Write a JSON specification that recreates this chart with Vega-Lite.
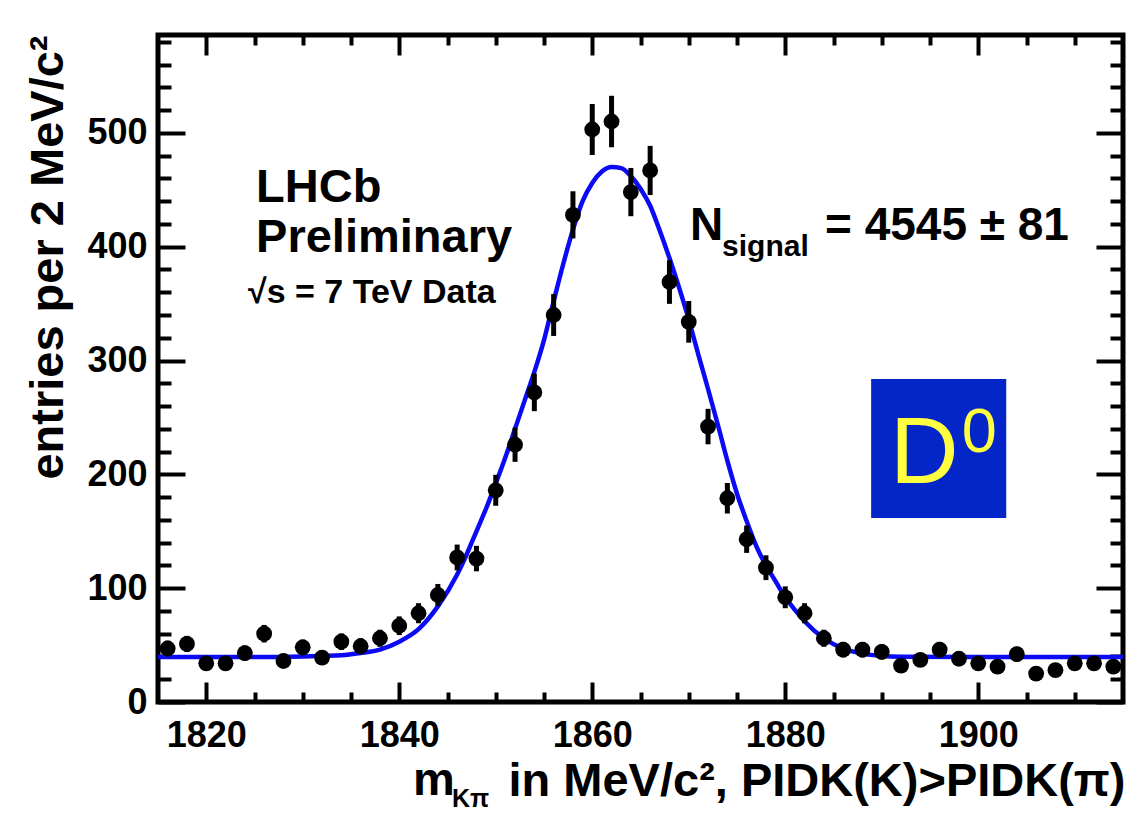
{
  "$schema": "https://vega.github.io/schema/vega-lite/v6.json",
  "width": 965,
  "height": 667,
  "autosize": "none",
  "padding": {"left": 158, "top": 35, "right": 14, "bottom": 112},
  "background": "white",
  "config": {
    "view": {"stroke": "black", "strokeWidth": 5},
    "font": "Liberation Sans",
    "axis": {"grid": false, "domain": false, "tickColor": "black", "tickWidth": 4, "labelColor": "black", "titleColor": "black", "labelFont": "Liberation Sans", "titleFont": "Liberation Sans", "labelFontWeight": "bold", "titleFontWeight": "bold", "format": "d", "zindex": 2}
  },
  "datasets": {
    "pts": [
      {"m": 1816, "v": 47, "err": 6.9}, {"m": 1818, "v": 51, "err": 7.1}, {"m": 1820, "v": 34, "err": 5.8}, {"m": 1822, "v": 34, "err": 5.8},
      {"m": 1824, "v": 43, "err": 6.6}, {"m": 1826, "v": 60, "err": 7.7}, {"m": 1828, "v": 36, "err": 6.0}, {"m": 1830, "v": 48, "err": 6.9},
      {"m": 1832, "v": 39, "err": 6.2}, {"m": 1834, "v": 53, "err": 7.3}, {"m": 1836, "v": 49, "err": 7.0}, {"m": 1838, "v": 56, "err": 7.5},
      {"m": 1840, "v": 67, "err": 8.2}, {"m": 1842, "v": 78, "err": 8.8}, {"m": 1844, "v": 94, "err": 9.7}, {"m": 1846, "v": 127, "err": 11.3},
      {"m": 1848, "v": 126, "err": 11.2}, {"m": 1850, "v": 186, "err": 13.6}, {"m": 1852, "v": 226, "err": 15.0}, {"m": 1854, "v": 272, "err": 16.5},
      {"m": 1856, "v": 340, "err": 18.4}, {"m": 1858, "v": 428, "err": 20.7}, {"m": 1860, "v": 503, "err": 22.4}, {"m": 1862, "v": 510, "err": 22.6},
      {"m": 1864, "v": 448, "err": 21.2}, {"m": 1866, "v": 467, "err": 21.6}, {"m": 1868, "v": 369, "err": 19.2}, {"m": 1870, "v": 334, "err": 18.3},
      {"m": 1872, "v": 242, "err": 15.6}, {"m": 1874, "v": 179, "err": 13.4}, {"m": 1876, "v": 143, "err": 12.0}, {"m": 1878, "v": 118, "err": 10.9},
      {"m": 1880, "v": 92, "err": 9.6}, {"m": 1882, "v": 78, "err": 8.8}, {"m": 1884, "v": 56, "err": 7.5}, {"m": 1886, "v": 46, "err": 6.8},
      {"m": 1888, "v": 46, "err": 6.8}, {"m": 1890, "v": 44, "err": 6.6}, {"m": 1892, "v": 32, "err": 5.7}, {"m": 1894, "v": 37, "err": 6.1},
      {"m": 1896, "v": 46, "err": 6.8}, {"m": 1898, "v": 38, "err": 6.2}, {"m": 1900, "v": 34, "err": 5.8}, {"m": 1902, "v": 31, "err": 5.6},
      {"m": 1904, "v": 42, "err": 6.5}, {"m": 1906, "v": 25, "err": 5.0}, {"m": 1908, "v": 28, "err": 5.3}, {"m": 1910, "v": 34, "err": 5.8},
      {"m": 1912, "v": 34, "err": 5.8}, {"m": 1914, "v": 31, "err": 5.6}
    ],
    "fit": [
      {"m": 1815, "f": 39.5}, {"m": 1820, "f": 39.5}, {"m": 1825, "f": 39.5}, {"m": 1830, "f": 40}, {"m": 1834, "f": 41},
      {"m": 1836, "f": 43}, {"m": 1838, "f": 46}, {"m": 1840, "f": 53}, {"m": 1842, "f": 64}, {"m": 1844, "f": 84},
      {"m": 1846, "f": 112}, {"m": 1847, "f": 130}, {"m": 1848, "f": 150}, {"m": 1849, "f": 170}, {"m": 1850, "f": 192},
      {"m": 1851, "f": 215}, {"m": 1852, "f": 240}, {"m": 1853, "f": 265}, {"m": 1854, "f": 290}, {"m": 1855, "f": 318},
      {"m": 1856, "f": 352}, {"m": 1857, "f": 385}, {"m": 1858, "f": 415}, {"m": 1859, "f": 440}, {"m": 1860, "f": 456},
      {"m": 1861, "f": 466}, {"m": 1862, "f": 470}, {"m": 1863, "f": 469}, {"m": 1864, "f": 462}, {"m": 1865, "f": 451},
      {"m": 1866, "f": 436}, {"m": 1867, "f": 414}, {"m": 1868, "f": 390}, {"m": 1869, "f": 364}, {"m": 1870, "f": 336},
      {"m": 1871, "f": 305}, {"m": 1872, "f": 275}, {"m": 1873, "f": 244}, {"m": 1874, "f": 212}, {"m": 1875, "f": 183},
      {"m": 1876, "f": 159}, {"m": 1877, "f": 137}, {"m": 1878, "f": 120}, {"m": 1879, "f": 106}, {"m": 1880, "f": 92},
      {"m": 1881, "f": 81}, {"m": 1882, "f": 71}, {"m": 1884, "f": 56}, {"m": 1886, "f": 47}, {"m": 1888, "f": 42.5},
      {"m": 1890, "f": 40.5}, {"m": 1892, "f": 39.8}, {"m": 1900, "f": 39.5}, {"m": 1915, "f": 39.5}
    ]
  },
  "resolve": {"scale": {"x": "shared", "y": "shared"}, "axis": {"x": "independent", "y": "independent"}},
  "layer": [
    {
      "data": {"name": "fit"},
      "mark": {"type": "line", "color": "#0a0af5", "strokeWidth": 4.5, "interpolate": "monotone", "clip": true},
      "encoding": {
        "x": {"field": "m", "type": "quantitative", "scale": {"domain": [1815, 1915], "nice": false, "zero": false},
          "axis": {"orient": "bottom", "values": [1825, 1830, 1835, 1845, 1850, 1855, 1865, 1870, 1875, 1885, 1890, 1895, 1905, 1910], "offset": -10, "tickSize": 10, "labels": false, "title": null}},
        "y": {"field": "f", "type": "quantitative", "scale": {"domain": [0, 586], "nice": false, "zero": false},
          "axis": {"orient": "left", "values": [20, 40, 60, 80, 120, 140, 160, 180, 220, 240, 260, 280, 320, 340, 360, 380, 420, 440, 460, 480, 520, 540, 560, 580], "offset": -13, "tickSize": 13, "labels": false, "title": null}}
      }
    },
    {
      "data": {"name": "pts"},
      "mark": {"type": "errorbar", "thickness": 5, "color": "black", "clip": true},
      "encoding": {
        "x": {"field": "m", "type": "quantitative", "scale": {"domain": [1815, 1915], "nice": false, "zero": false}, "axis": null},
        "y": {"field": "v", "type": "quantitative", "scale": {"domain": [0, 586], "nice": false, "zero": false}, "axis": null},
        "yError": {"field": "err"}
      }
    },
    {
      "data": {"name": "pts"},
      "mark": {"type": "circle", "color": "black", "opacity": 1, "size": 250, "clip": true},
      "encoding": {
        "x": {"field": "m", "type": "quantitative", "scale": {"domain": [1815, 1915], "nice": false, "zero": false},
          "axis": {"orient": "bottom", "values": [1820, 1840, 1860, 1880, 1900], "format": "d", "offset": -20, "tickSize": 20, "labelPadding": 16, "labelFontSize": 36, "labelFlush": false,
            "title": "in MeV/c², PIDK(K)>PIDK(π)", "titleFontSize": 47, "titleAnchor": "end", "titleAlign": "right", "titleBaseline": "alphabetic", "titleX": 967, "titleY": 113}},
        "y": {"field": "v", "type": "quantitative", "scale": {"domain": [0, 586], "nice": false, "zero": false},
          "axis": {"orient": "left", "values": [0, 100, 200, 300, 400, 500], "format": "d", "offset": -27, "tickSize": 27, "labelPadding": 11, "labelFontSize": 36, "labelFlush": false,
            "title": "entries per 2 MeV/c²", "titleFontSize": 47, "titleAngle": -90, "titleAnchor": "end", "titleAlign": "right", "titleBaseline": "alphabetic", "titleX": -123, "titleY": 0}}
      }
    },
    {
      "data": {"values": [{"x1": 1888.9, "x2": 1902.9, "y1": 161.7, "y2": 283.8}]},
      "mark": {"type": "rect", "color": "#0426c8"},
      "encoding": {
        "x": {"field": "x1", "type": "quantitative", "scale": {"domain": [1815, 1915], "nice": false, "zero": false},
          "axis": {"orient": "top", "values": [1820, 1840, 1860, 1880, 1900], "offset": -20, "tickSize": 20, "labels": false, "title": null}},
        "x2": {"field": "x2"},
        "y": {"field": "y1", "type": "quantitative", "scale": {"domain": [0, 586], "nice": false, "zero": false},
          "axis": {"orient": "right", "values": [0, 100, 200, 300, 400, 500], "offset": -27, "tickSize": 27, "labels": false, "title": null}},
        "y2": {"field": "y2"}
      }
    },
    {
      "data": {"values": [{}]},
      "mark": {"type": "text", "text": "D", "font": "Liberation Sans", "fontSize": 95, "color": "#ffff40", "align": "left", "baseline": "alphabetic"},
      "encoding": {
        "x": {"datum": 1890.85, "type": "quantitative", "scale": {"domain": [1815, 1915], "nice": false, "zero": false},
          "axis": {"orient": "top", "values": [1825, 1830, 1835, 1845, 1850, 1855, 1865, 1870, 1875, 1885, 1890, 1895, 1905, 1910], "offset": -10, "tickSize": 10, "labels": false, "title": null}},
        "y": {"datum": 192.4, "type": "quantitative", "scale": {"domain": [0, 586], "nice": false, "zero": false},
          "axis": {"orient": "right", "values": [20, 40, 60, 80, 120, 140, 160, 180, 220, 240, 260, 280, 320, 340, 360, 380, 420, 440, 460, 480, 520, 540, 560, 580], "offset": -13, "tickSize": 13, "labels": false, "title": null}}
      }
    },
    {
      "data": {"values": [{}]},
      "mark": {"type": "text", "text": "0", "font": "Liberation Sans", "fontSize": 63, "color": "#ffff40", "align": "left", "baseline": "alphabetic"},
      "encoding": {
        "x": {"datum": 1898.3, "type": "quantitative", "axis": null},
        "y": {"datum": 219.6, "type": "quantitative", "axis": null}
      }
    },
    {
      "data": {"values": [{}]},
      "mark": {"type": "text", "text": "LHCb", "fontWeight": "bold", "fontSize": 47, "color": "black", "align": "left", "baseline": "alphabetic"},
      "encoding": {"x": {"datum": 1825.16, "type": "quantitative", "axis": null}, "y": {"datum": 439.3, "type": "quantitative", "axis": null}}
    },
    {
      "data": {"values": [{}]},
      "mark": {"type": "text", "text": "Preliminary", "fontWeight": "bold", "fontSize": 47, "color": "black", "align": "left", "baseline": "alphabetic"},
      "encoding": {"x": {"datum": 1825.16, "type": "quantitative", "axis": null}, "y": {"datum": 395.4, "type": "quantitative", "axis": null}}
    },
    {
      "data": {"values": [{}]},
      "mark": {"type": "text", "text": "√s = 7 TeV Data", "fontWeight": "bold", "fontSize": 34, "color": "black", "align": "left", "baseline": "alphabetic"},
      "encoding": {"x": {"datum": 1824.33, "type": "quantitative", "axis": null}, "y": {"datum": 350.5, "type": "quantitative", "axis": null}}
    },
    {
      "data": {"values": [{}]},
      "mark": {"type": "text", "text": "N", "fontWeight": "bold", "fontSize": 46, "color": "black", "align": "left", "baseline": "alphabetic"},
      "encoding": {"x": {"datum": 1870.13, "type": "quantitative", "axis": null}, "y": {"datum": 405.9, "type": "quantitative", "axis": null}}
    },
    {
      "data": {"values": [{}]},
      "mark": {"type": "text", "text": "signal", "fontWeight": "bold", "fontSize": 30, "color": "black", "align": "left", "baseline": "alphabetic"},
      "encoding": {"x": {"datum": 1873.45, "type": "quantitative", "axis": null}, "y": {"datum": 391.9, "type": "quantitative", "axis": null}}
    },
    {
      "data": {"values": [{}]},
      "mark": {"type": "text", "text": "= 4545 ± 81", "fontWeight": "bold", "fontSize": 46, "color": "black", "align": "left", "baseline": "alphabetic"},
      "encoding": {"x": {"datum": 1884.12, "type": "quantitative", "axis": null}, "y": {"datum": 405.9, "type": "quantitative", "axis": null}}
    },
    {
      "data": {"values": [{}]},
      "mark": {"type": "text", "text": "m", "fontWeight": "bold", "fontSize": 47, "color": "black", "align": "left", "baseline": "alphabetic"},
      "encoding": {"x": {"datum": 1841.42, "type": "quantitative", "axis": null}, "y": {"datum": -81.7, "type": "quantitative", "axis": null}}
    },
    {
      "data": {"values": [{}]},
      "mark": {"type": "text", "text": "Kπ", "fontWeight": "bold", "fontSize": 25, "color": "black", "align": "left", "baseline": "alphabetic"},
      "encoding": {"x": {"datum": 1845.47, "type": "quantitative", "axis": null}, "y": {"datum": -92.2, "type": "quantitative", "axis": null}}
    }
  ]
}
